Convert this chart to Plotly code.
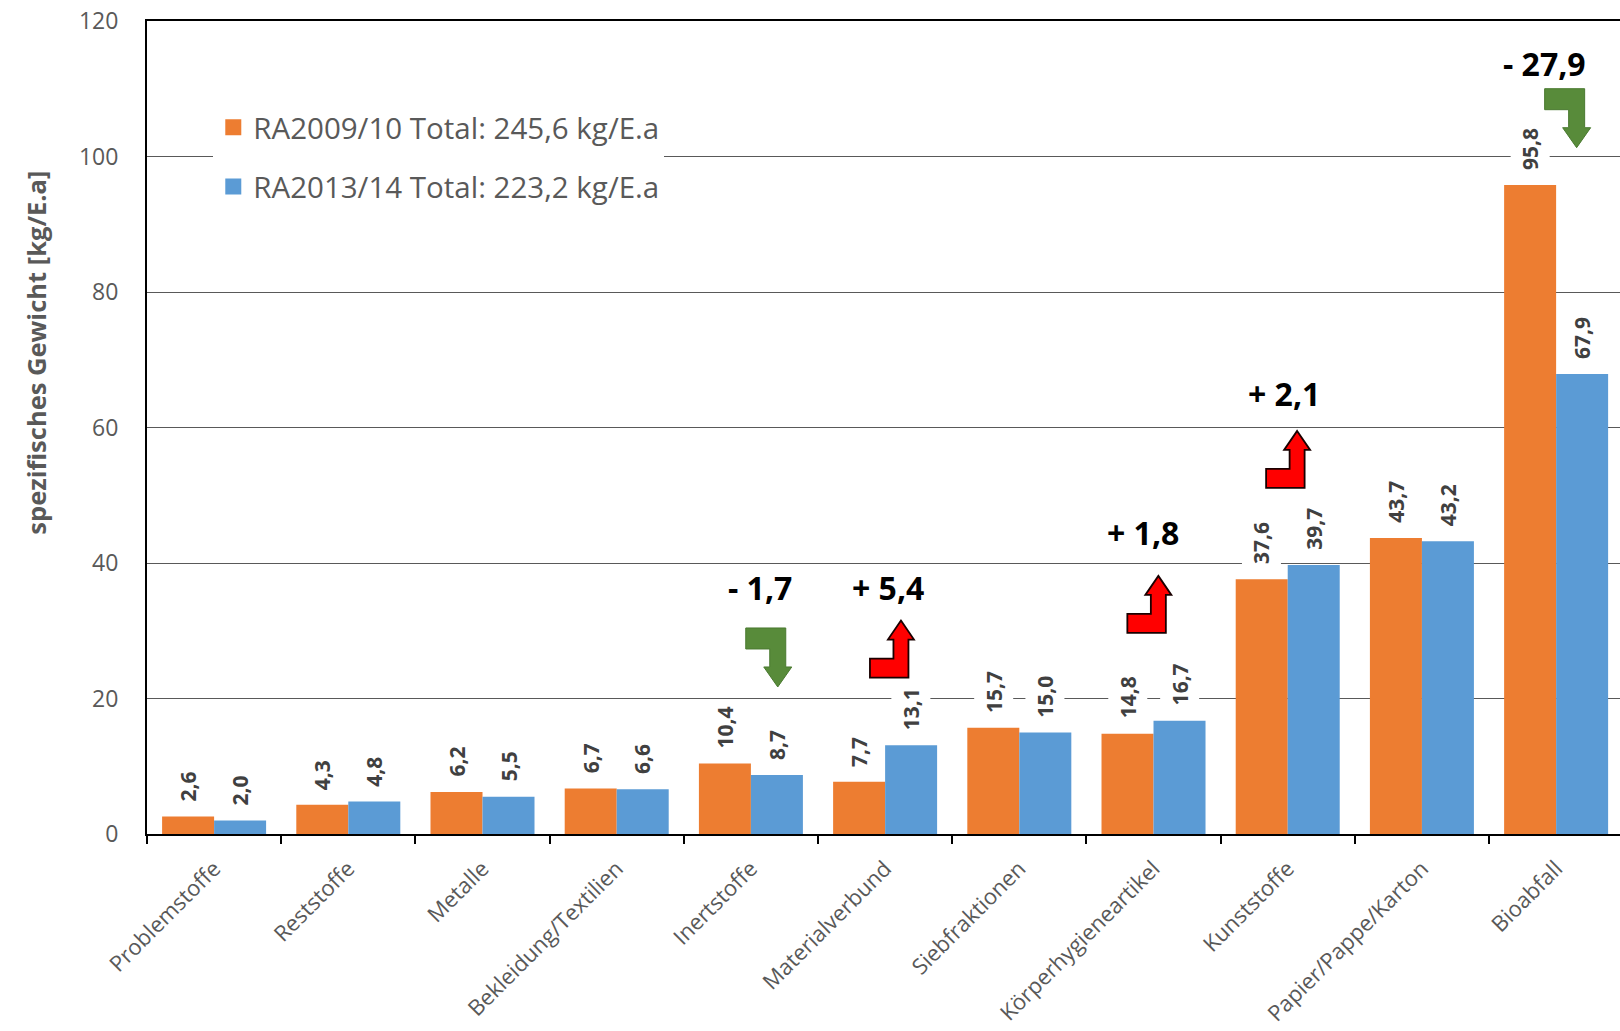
import plotly.graph_objects as go

# --- data -------------------------------------------------------------------
categories = [
    "Problemstoffe", "Reststoffe", "Metalle", "Bekleidung/Textilien", "Inertstoffe",
    "Materialverbund", "Siebfraktionen", "Körperhygieneartikel", "Kunststoffe",
    "Papier/Pappe/Karton", "Bioabfall",
]
ra_2009_10 = [2.6, 4.3, 6.2, 6.7, 10.4, 7.7, 15.7, 14.8, 37.6, 43.7, 95.8]
ra_2013_14 = [2.0, 4.8, 5.5, 6.6, 8.7, 13.1, 15.0, 16.7, 39.7, 43.2, 67.9]
series_names = ["RA2009/10 Total: 245,6 kg/E.a", "RA2013/14 Total: 223,2 kg/E.a"]
y_ticks = [0, 20, 40, 60, 80, 100, 120]
y_title = "spezifisches Gewicht [kg/E.a]"

change_categories = ["Inertstoffe", "Materialverbund", "Körperhygieneartikel", "Kunststoffe", "Bioabfall"]
change_labels = ["- 1,7", "+ 5,4", "+ 1,8", "+ 2,1", "- 27,9"]

# --- styling / placement ------------------------------------------------------
FONT = "Open Sans"
GREY = "#595959"
COLORS = ["#ED7D31", "#5B9BD5"]
BARGAP = 0.225

# callout placement in axis units:
# (label x shift from category, label y, arrow tip x shift, arrow tip y)
callout_place = {
    "Inertstoffe": (0.068, 36.0, 0.200, 21.7),
    "Materialverbund": (0.022, 36.0, 0.118, 31.5),
    "Körperhygieneartikel": (-0.082, 44.0, 0.036, 38.1),
    "Kunststoffe": (-0.027, 64.6, 0.070, 59.5),
    "Bioabfall": (-0.086, 113.3, 0.153, 101.3),
}

# elbow arrows, in pixels relative to the tip (y up)
DOWN_ARROW = [(0, 0), (14, 20), (8, 20), (8, 59), (-32, 59), (-32, 38), (-8, 38), (-8, 20), (-14, 20)]
UP_ARROW = [(0, 0), (13, -19), (7.5, -19), (7.5, -57), (-31, -57), (-31, -38), (-7.5, -38), (-7.5, -19), (-13, -19)]


def path_of(points):
    return "M " + " L ".join(f"{x},{y}" for x, y in points) + " Z"


def fmt(v):
    return f"{v:.1f}".replace(".", ",")


x_pos = list(range(len(categories)))
series = [ra_2009_10, ra_2013_14]

fig = go.Figure()
for i, (name, vals) in enumerate(zip(series_names, series)):
    fig.add_trace(go.Bar(
        x=x_pos, y=vals, name=name, marker=dict(color=COLORS[i], line=dict(width=0)),
        legendgroup=f"g{i}", showlegend=False, hoverinfo="y",
    ))
    # larger square swatch for the legend entry
    fig.add_trace(go.Scatter(
        x=[None], y=[None], mode="markers", name=name, legendgroup=f"g{i}",
        marker=dict(symbol="square", size=16, color=COLORS[i]),
    ))

# value labels above each bar
bar_w = (1 - BARGAP) / 2
annotations = []
for i, vals in enumerate(series):
    off = (i - 0.5) * bar_w
    for j, v in enumerate(vals):
        annotations.append(dict(
            x=j + off, y=v, xref="x", yref="y", text=fmt(v), showarrow=False,
            textangle=-90, xanchor="center", yanchor="bottom", yshift=9,
            bgcolor="white", borderpad=5,
            font=dict(family=FONT, size=21, color="#404040", weight="bold"),
        ))

# change callouts with elbow arrows
shapes = []
for cat, label in zip(change_categories, change_labels):
    idx = categories.index(cat)
    lx, ly, ax_, ay = callout_place[cat]
    rising = label.strip().startswith("+")
    annotations.append(dict(
        x=idx + lx, y=ly, xref="x", yref="y", text=f"<b>{label}</b>", showarrow=False,
        xanchor="center", yanchor="middle", yshift=3,
        font=dict(family=FONT, size=32, color="black"),
    ))
    shapes.append(dict(
        type="path", xref="x", yref="y", xsizemode="pixel", ysizemode="pixel",
        xanchor=idx + ax_, yanchor=ay,
        path=path_of(UP_ARROW if rising else DOWN_ARROW),
        fillcolor="#FF0000" if rising else "#588B3A",
        line=dict(color="#1a0000" if rising else "#4A7A30", width=1.8 if rising else 1),
        layer="above",
    ))

# y axis title
annotations.append(dict(
    x=-0.0754, y=0.592, xref="paper", yref="paper", text=f"<b>{y_title}</b>", showarrow=False,
    textangle=-90, xanchor="center", yanchor="middle",
    font=dict(family=FONT, size=25.5, color=GREY),
))

fig.update_layout(
    width=1620, height=1031,
    margin=dict(l=147, r=0, t=21, b=197),
    paper_bgcolor="white", plot_bgcolor="white",
    barmode="group", bargap=BARGAP, bargroupgap=0,
    font=dict(family=FONT, color=GREY),
    showlegend=True,
    legend=dict(
        x=0.045, y=0.901, xanchor="left", yanchor="top",
        bgcolor="white", borderwidth=0, tracegroupgap=18,
        font=dict(family=FONT, size=29.5, color=GREY),
    ),
    annotations=annotations,
    shapes=shapes,
)

fig.update_xaxes(
    range=[-0.5, 10.476], tickmode="array", tickvals=x_pos, ticktext=categories,
    tickangle=-45, ticks="", ticklabelstandoff=11, automargin=False,
    tickfont=dict(family=FONT, size=22, color=GREY),
    showline=True, linecolor="black", linewidth=2, mirror=True,
    showgrid=False, zeroline=False,
    minor=dict(tickmode="array", tickvals=[k - 0.5 for k in range(len(categories) + 1)],
               ticks="outside", ticklen=8, tickwidth=1.5, tickcolor="black", showgrid=False),
)
fig.update_yaxes(
    range=[0, 120], tickmode="array", tickvals=y_ticks, ticks="",
    ticklabelstandoff=22, automargin=False,
    tickfont=dict(family=FONT, size=23, color=GREY),
    showgrid=True, gridcolor="#595959", gridwidth=1,
    showline=True, linecolor="black", linewidth=2, zeroline=False,
)

fig.write_html("out.html")
